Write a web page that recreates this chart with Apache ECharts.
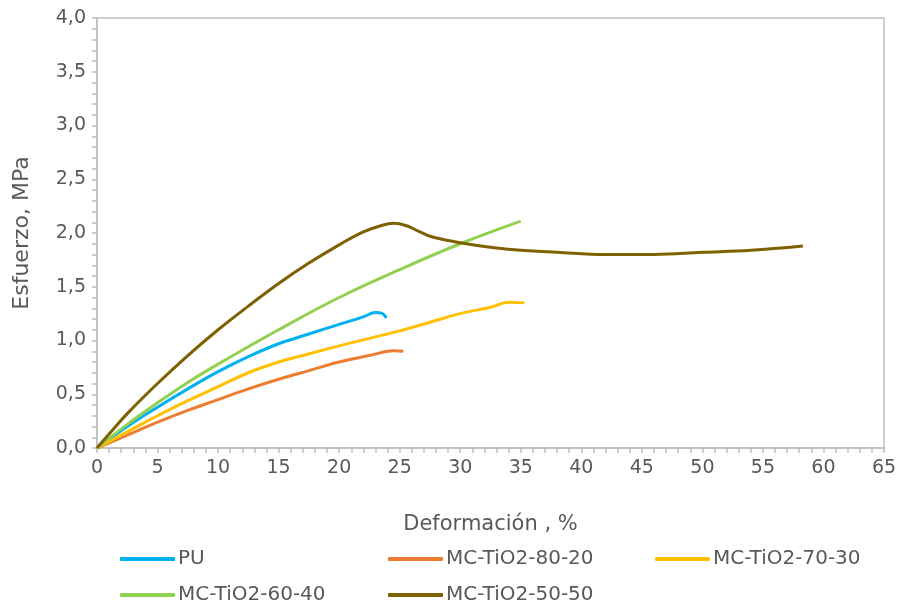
<!DOCTYPE html>
<html>
<head>
<meta charset="utf-8">
<script src="https://cdn.jsdelivr.net/npm/echarts@6/dist/echarts.min.js"></script>
<style>
  html, body { margin: 0; padding: 0; background: #fff; }
  #chart { width: 900px; height: 606px; }
</style>
</head>
<body>
<div id="chart"></div>
<script>
// curvas esfuerzo-deformación: [deformación %, esfuerzo MPa]
const names = ["PU", "MC-TiO2-80-20", "MC-TiO2-70-30", "MC-TiO2-60-40", "MC-TiO2-50-50"];
const colors = ["#00B0F0", "#ED7D31", "#FFC000", "#92D050", "#7F6000"];

const pu = [[0, 0], [2.5, 0.2], [5, 0.38], [7.5, 0.55], [10, 0.71], [12.5, 0.85], [15, 0.97],
  [17.5, 1.06], [20, 1.15], [22, 1.22], [23, 1.26], [23.5, 1.255], [23.9, 1.21]];
const mc8020 = [[0, 0], [2.5, 0.12], [5, 0.24], [7.5, 0.35], [10, 0.45], [12.5, 0.55], [15, 0.64],
  [17.5, 0.72], [20, 0.8], [22.5, 0.86], [24.5, 0.905], [25.3, 0.9]];
const mc7030 = [[0, 0], [2.5, 0.15], [5, 0.3], [7.5, 0.44], [10, 0.57], [12.5, 0.7], [15, 0.8],
  [17, 0.86], [20, 0.95], [22.5, 1.02], [25, 1.09], [27.5, 1.17], [30, 1.25],
  [32.5, 1.31], [34, 1.355], [35.3, 1.35]];
const mc6040 = [[0, 0], [2.5, 0.22], [5, 0.42], [7.5, 0.61], [10, 0.78], [15, 1.1], [20, 1.4],
  [25, 1.66], [30, 1.9], [35, 2.11]];
const mc5050 = [[0, 0], [1, 0.13], [2.5, 0.32], [5, 0.6], [7.5, 0.86], [10, 1.1], [12.5, 1.32],
  [15, 1.53], [17.5, 1.72], [20, 1.89], [22, 2.01], [23.5, 2.07], [24.5, 2.09], [25.5, 2.07],
  [26.5, 2.02], [27.5, 1.97], [29, 1.93], [31, 1.89], [33, 1.86], [35, 1.84], [38, 1.82],
  [42, 1.8], [46, 1.8], [50, 1.82], [54, 1.84], [58.3, 1.88]];
const seriesData = [pu, mc8020, mc7030, mc6040, mc5050];

const font = "'DejaVu Sans', sans-serif";
const grey = "#595959";
const axisGrey = "#BFBFBF";

// posiciones de la leyenda (dos filas, tres columnas)
const legendPos = [[115, 544], [383, 544], [650, 544], [115, 580], [383, 580]];

const chart = echarts.init(document.getElementById("chart"));
chart.setOption({
  backgroundColor: "#fff",
  animation: false,
  grid: { left: 97, right: 16, top: 18, bottom: 158, show: true, borderColor: axisGrey, borderWidth: 1.5 },
  legend: names.map((n, i) => ({
    data: [{ name: n, icon: "roundRect", itemStyle: { color: colors[i] } }],
    left: legendPos[i][0], top: legendPos[i][1],
    itemWidth: 55, itemHeight: 4, itemGap: 3,
    textStyle: { color: grey, fontSize: 20, fontFamily: font, padding: [0, 0, 0, -2] }
  })),
  xAxis: {
    type: "value", min: 0, max: 65, interval: 5,
    name: "Deformación , %", nameLocation: "middle", nameGap: 66,
    nameTextStyle: { color: grey, fontSize: 21, fontFamily: font },
    axisLine: { show: true, lineStyle: { color: axisGrey, width: 1.5 } },
    axisTick: { show: true, length: 5, lineStyle: { color: axisGrey, width: 1.5 } },
    minorTick: { show: true, splitNumber: 5, length: 5, lineStyle: { color: axisGrey, width: 1.5 } },
    splitLine: { show: false },
    axisLabel: { color: grey, fontSize: 19, fontFamily: font, margin: 11 }
  },
  yAxis: {
    type: "value", min: 0, max: 4, interval: 0.5,
    name: "Esfuerzo, MPa", nameLocation: "middle", nameGap: 64,
    nameTextStyle: { color: grey, fontSize: 22, fontFamily: font },
    axisLine: { show: true, lineStyle: { color: axisGrey, width: 1.5 } },
    axisTick: { show: true, length: 5, lineStyle: { color: axisGrey, width: 1.5 } },
    minorTick: { show: true, splitNumber: 5, length: 5, lineStyle: { color: axisGrey, width: 1.5 } },
    splitLine: { show: false },
    axisLabel: {
      color: grey, fontSize: 19, fontFamily: font, margin: 11,
      formatter: (v) => v.toFixed(1).replace(".", ",")
    }
  },
  series: names.map((n, i) => ({
    name: n, type: "line", data: seriesData[i], smooth: 0.4,
    showSymbol: false, symbol: "none",
    lineStyle: { color: colors[i], width: 3 }, itemStyle: { color: colors[i] }
  }))
});
</script>
</body>
</html>
